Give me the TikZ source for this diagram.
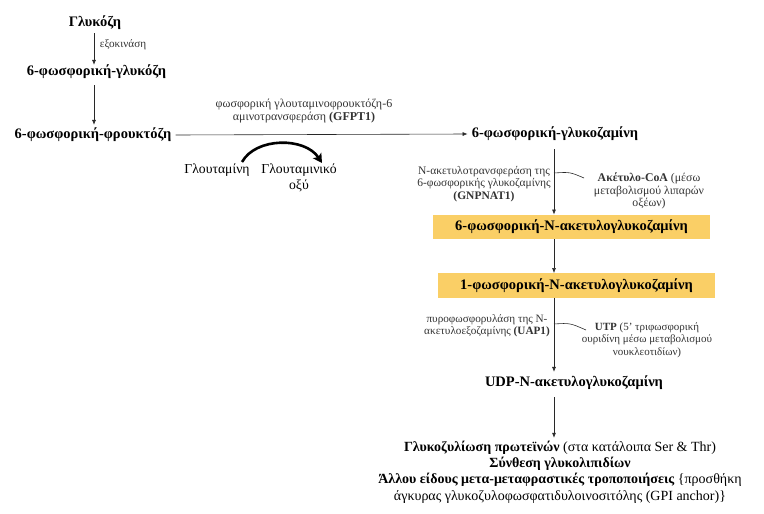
\documentclass[tikz,border=0pt]{standalone}
\usepackage{fontspec}
\setmainfont{Liberation Serif}
\usetikzlibrary{arrows.meta}
\definecolor{boxy}{RGB}{250,207,102}
\definecolor{ln}{RGB}{40,40,40}
\begin{document}
\begin{tikzpicture}[x=1pt,y=-1pt,
  met/.style={font=\fontsize{14.5}{17}\selectfont\bfseries, inner sep=0pt},
  enz/.style={font=\fontsize{11.2}{12.3}\selectfont, inner sep=0pt, align=center, text=black!80},
  sub/.style={font=\fontsize{13.7}{16.5}\selectfont, inner sep=0pt, align=center},
  ybox/.style={met, fill=boxy, minimum width=277pt, minimum height=24.5pt},
  arr/.style={draw=ln, line width=0.6pt, -{Latex[length=5pt,width=4pt]}},
  plain/.style={draw=ln, line width=0.6pt},
  curvearr/.style={line width=2.6pt, -{Stealth[length=9pt,width=10pt,inset=2pt]}},
  bot/.style={font=\fontsize{14}{16.2}\selectfont, inner sep=0pt, align=center}
]
\useasboundingbox (0,0) rectangle (764,514);

% column coordinates
\coordinate (ax) at (94,0);
\coordinate (bx) at (554,0);

% left column
\node[met] (glu) at (95,23) {Γλυκόζη};
\node[met] (g6p) at (96.5,72) {6-φωσφορική-γλυκόζη};
\node[met] (f6p) at (93,135) {6-φωσφορική-φρουκτόζη};
\node[enz, anchor=center] (hk) at (123,45) {εξοκινάση};

\draw[arr] ([yshift=-3pt]ax |- glu.south) -- (ax |- g6p.north);
\draw[arr] ([yshift=-6pt]ax |- g6p.south) -- ([yshift=3pt]ax |- f6p.north);

% right column
\node[met] (gln6p) at (555,134) {6-φωσφορική-γλυκοζαμίνη};
\draw[arr] ([xshift=4pt]f6p.east) -- ([xshift=-4pt]gln6p.west);

\node[enz, font=\fontsize{12}{12.5}\selectfont] (gfpt) at (304,111) {φωσφορική γλουταμινοφρουκτόζη-6\\αμινοτρανσφεράση \textbf{(GFPT1)}};

% glutamine -> glutamate
\node[sub] (glnA) at (217,170) {Γλουταμίνη};
\node[sub] (gluA) at (299,178) {Γλουταμινικό\\οξύ};
\coordinate (c1) at (242,162);
\coordinate (c2) at (322,163);
\draw[curvearr] (c1) .. controls (256,137) and (305,137) .. (c2);

% GNPNAT1
\node[ybox] (b1) at (571.5,227) {6-φωσφορική-N-ακετυλογλυκοζαμίνη};
\node[ybox] (b2) at (576.5,285.5) {1-φωσφορική-N-ακετυλογλυκοζαμίνη};
\draw[arr] ([yshift=-8pt]bx |- gln6p.south) -- (bx |- b1.north);
\node[enz, font=\fontsize{11.5}{12.2}\selectfont] (gnp) at (484,184) {N-ακετυλοτρανσφεράση της\\6-φωσφορικής γλυκοζαμίνης\\\textbf{(GNPNAT1)}};
\coordinate (j1) at (554,173);
\draw[plain] (j1) .. controls (570,172) .. (584,178);
\node[enz, font=\fontsize{11.8}{12.5}\selectfont] (acoa) at (649,191) {\textbf{Ακέτυλο-CoA} (μέσω\\μεταβολισμού λιπαρών\\οξέων)};

\draw[arr] (bx |- b1.south) -- (bx |- b2.north);

% UAP1
\node[met] (udp) at (574,383) {UDP-N-ακετυλογλυκοζαμίνη};
\draw[arr] (bx |- b2.south) -- ([yshift=4pt]bx |- udp.north);
\node[enz] (uap) at (487,326) {πυροφωσφορυλάση της N-\\ακετυλοεξοζαμίνης \textbf{(UAP1)}};
\coordinate (j2) at (554,324);
\draw[plain] (j2) .. controls (570,323) .. (586,330);
\node[enz, font=\fontsize{11}{12.3}\selectfont] (utp) at (647,340) {\textbf{UTP} (5’ τριφωσφορική\\ουριδίνη μέσω μεταβολισμού\\νουκλεοτιδίων)};

% products
\node[bot] (prod) at (560,472) {\textbf{Γλυκοζυλίωση πρωτεϊνών} (στα κατάλοιπα Ser \& Thr)\\
\textbf{Σύνθεση γλυκολιπιδίων}\\
\textbf{Άλλου είδους μετα-μεταφραστικές τροποποιήσεις} \{προσθήκη\\
άγκυρας γλυκοζυλοφωσφατιδυλοινοσιτόλης (GPI anchor)\}};
\draw[arr] ([yshift=-7pt]bx |- udp.south) -- ([yshift=3pt]bx |- prod.north);
\end{tikzpicture}
\end{document}
